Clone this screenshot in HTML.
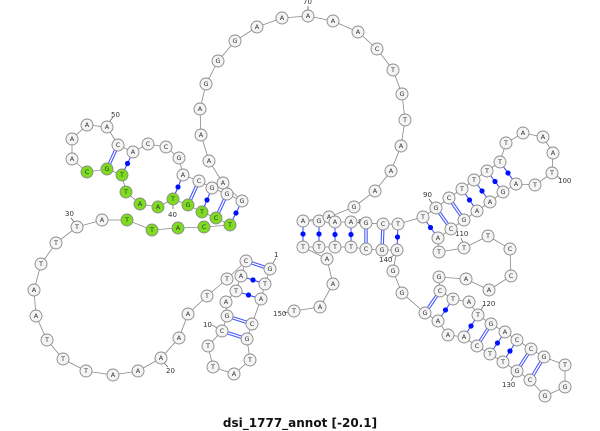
<!DOCTYPE html>
<html><head><meta charset="utf-8">
<style>
html,body{margin:0;padding:0;background:#fff;}
svg{display:block;}
.n circle{fill:#f4f4f4;stroke:#8a8a8a;stroke-width:0.9;}
.n.g circle{fill:#7ddc1f;stroke:#8a8a8a;}
.n text{font-family:"DejaVu Sans","Liberation Sans",sans-serif;font-size:6.5px;fill:#333;text-anchor:middle;dominant-baseline:central;}
.lbl{font-family:"DejaVu Sans","Liberation Sans",sans-serif;font-size:7px;fill:#333;}
.bb{fill:none;stroke:#888;stroke-width:0.8;}
.p1{stroke:#3344ff;stroke-width:1;}
.p2o{stroke:#4455ff;stroke-width:3.4;}
.p2i{stroke:#fff;stroke-width:1.3;}
.dot{fill:#0010ff;}
</style></head>
<body>
<svg width="600" height="431" viewBox="0 0 600 431" xmlns="http://www.w3.org/2000/svg">
<polyline class="bb" points="270,269 265,284 261,299 252,324 247,339 250,360 234,374 213,367 208,346 222,331 227,316 226,302 236,291 241,276 246,261 227,279 207,296 188,314 179,338 161,358 138,371 113,375 86,371 63,359 47,340 36,316 34,290 41,264 56,243 77,227 102,220 127,220 152,230 178,228 204,227 230,225 216,218 202,212 188,205 173,199 158,207 140,204 126,192 122,175 107,169 87,172 72,159 72,139 87,125 107,127 118,145 133,152 148,144 166,147 179,158 183,175 199,181 212,188 227,194 242,201 223,183 209,161 201,135 200,109 206,84 218,61 235,41 257,27 282,18 308,16 333,21 358,32 377,49 393,70 402,94 405,120 401,146 391,171 375,191 354,207 329,217 303,221 319,221 335,222 351,222 366,223 383,224 398,224 423,217 436,208 449,198 462,189 474,180 487,171 500,162 506,143 523,133 543,137 553,153 552,173 535,185 516,184 503,192 490,202 477,211 464,220 451,229 438,238 439,252 464,248 488,236 510,249 511,276 489,290 466,279 439,277 440,291 453,299 469,302 478,315 491,324 505,332 517,340 531,349 544,357 565,365 565,387 545,396 530,380 517,371 503,362 490,354 477,346 464,337 448,335 438,321 425,313 402,293 393,271 397,250 382,250 366,249 351,247 335,247 319,247 303,247 327,259 333,284 320,307 294,311"/>
<!-- double pairs -->
<g>
<line class="p2o" x1="270" y1="269" x2="246" y2="261"/><line class="p2i" x1="270" y1="269" x2="246" y2="261"/>
<line class="p2o" x1="252" y1="324" x2="227" y2="316"/><line class="p2i" x1="252" y1="324" x2="227" y2="316"/>
<line class="p2o" x1="247" y1="339" x2="222" y2="331"/><line class="p2i" x1="247" y1="339" x2="222" y2="331"/>
<line class="p2o" x1="216" y1="218" x2="227" y2="194"/><line class="p2i" x1="216" y1="218" x2="227" y2="194"/>
<line class="p2o" x1="188" y1="205" x2="199" y2="181"/><line class="p2i" x1="188" y1="205" x2="199" y2="181"/>
<line class="p2o" x1="107" y1="169" x2="118" y2="145"/><line class="p2i" x1="107" y1="169" x2="118" y2="145"/>
<line class="p2o" x1="366" y1="223" x2="366" y2="249"/><line class="p2i" x1="366" y1="223" x2="366" y2="249"/>
<line class="p2o" x1="383" y1="224" x2="382" y2="250"/><line class="p2i" x1="383" y1="224" x2="382" y2="250"/>
<line class="p2o" x1="436" y1="208" x2="451" y2="229"/><line class="p2i" x1="436" y1="208" x2="451" y2="229"/>
<line class="p2o" x1="449" y1="198" x2="464" y2="220"/><line class="p2i" x1="449" y1="198" x2="464" y2="220"/>
<line class="p2o" x1="440" y1="291" x2="425" y2="313"/><line class="p2i" x1="440" y1="291" x2="425" y2="313"/>
<line class="p2o" x1="491" y1="324" x2="477" y2="346"/><line class="p2i" x1="491" y1="324" x2="477" y2="346"/>
<line class="p2o" x1="531" y1="349" x2="517" y2="371"/><line class="p2i" x1="531" y1="349" x2="517" y2="371"/>
<line class="p2o" x1="544" y1="357" x2="530" y2="380"/><line class="p2i" x1="544" y1="357" x2="530" y2="380"/>
</g>
<!-- dot pairs -->
<g>
<line class="p1" x1="265" y1="284" x2="241" y2="276"/><circle class="dot" cx="253" cy="280" r="2.6"/>
<line class="p1" x1="261" y1="299" x2="236" y2="291"/><circle class="dot" cx="248.5" cy="295" r="2.6"/>
<line class="p1" x1="230" y1="225" x2="242" y2="201"/><circle class="dot" cx="236" cy="213" r="2.6"/>
<line class="p1" x1="202" y1="212" x2="212" y2="188"/><circle class="dot" cx="207" cy="200" r="2.6"/>
<line class="p1" x1="173" y1="199" x2="183" y2="175"/><circle class="dot" cx="178" cy="187" r="2.6"/>
<line class="p1" x1="122" y1="175" x2="133" y2="152"/><circle class="dot" cx="127.5" cy="163.5" r="2.6"/>
<line class="p1" x1="303" y1="221" x2="303" y2="247"/><circle class="dot" cx="303" cy="234" r="2.6"/>
<line class="p1" x1="319" y1="221" x2="319" y2="247"/><circle class="dot" cx="319" cy="234" r="2.6"/>
<line class="p1" x1="335" y1="222" x2="335" y2="247"/><circle class="dot" cx="335" cy="234.5" r="2.6"/>
<line class="p1" x1="351" y1="222" x2="351" y2="247"/><circle class="dot" cx="351" cy="234.5" r="2.6"/>
<line class="p1" x1="398" y1="224" x2="397" y2="250"/><circle class="dot" cx="397.5" cy="237" r="2.6"/>
<line class="p1" x1="423" y1="217" x2="438" y2="238"/><circle class="dot" cx="430.5" cy="227.5" r="2.6"/>
<line class="p1" x1="462" y1="189" x2="477" y2="211"/><circle class="dot" cx="469.5" cy="200" r="2.6"/>
<line class="p1" x1="474" y1="180" x2="490" y2="202"/><circle class="dot" cx="482" cy="191" r="2.6"/>
<line class="p1" x1="487" y1="171" x2="503" y2="192"/><circle class="dot" cx="495" cy="181.5" r="2.6"/>
<line class="p1" x1="500" y1="162" x2="516" y2="184"/><circle class="dot" cx="508" cy="173" r="2.6"/>
<line class="p1" x1="453" y1="299" x2="438" y2="321"/><circle class="dot" cx="445.5" cy="310" r="2.6"/>
<line class="p1" x1="478" y1="315" x2="464" y2="337"/><circle class="dot" cx="471" cy="326" r="2.6"/>
<line class="p1" x1="505" y1="332" x2="490" y2="354"/><circle class="dot" cx="497.5" cy="343" r="2.6"/>
<line class="p1" x1="517" y1="340" x2="503" y2="362"/><circle class="dot" cx="510" cy="351" r="2.6"/>
</g>
<!-- label ticks -->
<g stroke="#555" stroke-width="0.7">
<line x1="273" y1="263" x2="276" y2="258"/>
<line x1="217" y1="328" x2="212" y2="325"/>
<line x1="164" y1="363" x2="168" y2="367"/>
<line x1="74" y1="222" x2="71" y2="218"/>
<line x1="173" y1="205" x2="173" y2="209"/>
<line x1="110" y1="121" x2="113" y2="117"/>
<line x1="308" y1="10" x2="308" y2="6"/>
<line x1="432" y1="203" x2="429" y2="199"/>
<line x1="557" y1="176" x2="561" y2="179"/>
<line x1="463" y1="243" x2="461" y2="238"/>
<line x1="481" y1="310" x2="484" y2="305"/>
<line x1="514" y1="376" x2="511" y2="381"/>
<line x1="394" y1="255" x2="390" y2="258"/>
<line x1="288" y1="312" x2="284" y2="313"/>
</g>
<g class="lbl">
<text x="274" y="257">1</text>
<text x="203" y="327">10</text>
<text x="166" y="373">20</text>
<text x="65" y="216">30</text>
<text x="168" y="217">40</text>
<text x="111" y="117">50</text>
<text x="223" y="195">60</text>
<text x="303" y="4">70</text>
<text x="358" y="224">86</text>
<text x="423" y="197">90</text>
<text x="558" y="183">100</text>
<text x="455" y="236">110</text>
<text x="482" y="306">120</text>
<text x="502" y="387">130</text>
<text x="379" y="262">140</text>
<text x="273" y="316">150</text>
</g>
<g class="n"><circle cx="270" cy="269" r="6"/><text x="270" y="269">G</text></g>
<g class="n"><circle cx="265" cy="284" r="6"/><text x="265" y="284">T</text></g>
<g class="n"><circle cx="261" cy="299" r="6"/><text x="261" y="299">A</text></g>
<g class="n"><circle cx="252" cy="324" r="6"/><text x="252" y="324">C</text></g>
<g class="n"><circle cx="247" cy="339" r="6"/><text x="247" y="339">G</text></g>
<g class="n"><circle cx="250" cy="360" r="6"/><text x="250" y="360">T</text></g>
<g class="n"><circle cx="234" cy="374" r="6"/><text x="234" y="374">A</text></g>
<g class="n"><circle cx="213" cy="367" r="6"/><text x="213" y="367">T</text></g>
<g class="n"><circle cx="208" cy="346" r="6"/><text x="208" y="346">T</text></g>
<g class="n"><circle cx="222" cy="331" r="6"/><text x="222" y="331">C</text></g>
<g class="n"><circle cx="227" cy="316" r="6"/><text x="227" y="316">G</text></g>
<g class="n"><circle cx="226" cy="302" r="6"/><text x="226" y="302">A</text></g>
<g class="n"><circle cx="236" cy="291" r="6"/><text x="236" y="291">T</text></g>
<g class="n"><circle cx="241" cy="276" r="6"/><text x="241" y="276">A</text></g>
<g class="n"><circle cx="246" cy="261" r="6"/><text x="246" y="261">C</text></g>
<g class="n"><circle cx="227" cy="279" r="6"/><text x="227" y="279">T</text></g>
<g class="n"><circle cx="207" cy="296" r="6"/><text x="207" y="296">T</text></g>
<g class="n"><circle cx="188" cy="314" r="6"/><text x="188" y="314">A</text></g>
<g class="n"><circle cx="179" cy="338" r="6"/><text x="179" y="338">A</text></g>
<g class="n"><circle cx="161" cy="358" r="6"/><text x="161" y="358">A</text></g>
<g class="n"><circle cx="138" cy="371" r="6"/><text x="138" y="371">A</text></g>
<g class="n"><circle cx="113" cy="375" r="6"/><text x="113" y="375">A</text></g>
<g class="n"><circle cx="86" cy="371" r="6"/><text x="86" y="371">T</text></g>
<g class="n"><circle cx="63" cy="359" r="6"/><text x="63" y="359">T</text></g>
<g class="n"><circle cx="47" cy="340" r="6"/><text x="47" y="340">T</text></g>
<g class="n"><circle cx="36" cy="316" r="6"/><text x="36" y="316">A</text></g>
<g class="n"><circle cx="34" cy="290" r="6"/><text x="34" y="290">A</text></g>
<g class="n"><circle cx="41" cy="264" r="6"/><text x="41" y="264">T</text></g>
<g class="n"><circle cx="56" cy="243" r="6"/><text x="56" y="243">T</text></g>
<g class="n"><circle cx="77" cy="227" r="6"/><text x="77" y="227">T</text></g>
<g class="n"><circle cx="102" cy="220" r="6"/><text x="102" y="220">A</text></g>
<g class="n g"><circle cx="127" cy="220" r="6"/><text x="127" y="220">T</text></g>
<g class="n g"><circle cx="152" cy="230" r="6"/><text x="152" y="230">T</text></g>
<g class="n g"><circle cx="178" cy="228" r="6"/><text x="178" y="228">A</text></g>
<g class="n g"><circle cx="204" cy="227" r="6"/><text x="204" y="227">C</text></g>
<g class="n g"><circle cx="230" cy="225" r="6"/><text x="230" y="225">T</text></g>
<g class="n g"><circle cx="216" cy="218" r="6"/><text x="216" y="218">C</text></g>
<g class="n g"><circle cx="202" cy="212" r="6"/><text x="202" y="212">T</text></g>
<g class="n g"><circle cx="188" cy="205" r="6"/><text x="188" y="205">G</text></g>
<g class="n g"><circle cx="173" cy="199" r="6"/><text x="173" y="199">T</text></g>
<g class="n g"><circle cx="158" cy="207" r="6"/><text x="158" y="207">A</text></g>
<g class="n g"><circle cx="140" cy="204" r="6"/><text x="140" y="204">A</text></g>
<g class="n g"><circle cx="126" cy="192" r="6"/><text x="126" y="192">T</text></g>
<g class="n g"><circle cx="122" cy="175" r="6"/><text x="122" y="175">T</text></g>
<g class="n g"><circle cx="107" cy="169" r="6"/><text x="107" y="169">G</text></g>
<g class="n g"><circle cx="87" cy="172" r="6"/><text x="87" y="172">C</text></g>
<g class="n"><circle cx="72" cy="159" r="6"/><text x="72" y="159">A</text></g>
<g class="n"><circle cx="72" cy="139" r="6"/><text x="72" y="139">A</text></g>
<g class="n"><circle cx="87" cy="125" r="6"/><text x="87" y="125">A</text></g>
<g class="n"><circle cx="107" cy="127" r="6"/><text x="107" y="127">A</text></g>
<g class="n"><circle cx="118" cy="145" r="6"/><text x="118" y="145">C</text></g>
<g class="n"><circle cx="133" cy="152" r="6"/><text x="133" y="152">A</text></g>
<g class="n"><circle cx="148" cy="144" r="6"/><text x="148" y="144">C</text></g>
<g class="n"><circle cx="166" cy="147" r="6"/><text x="166" y="147">C</text></g>
<g class="n"><circle cx="179" cy="158" r="6"/><text x="179" y="158">G</text></g>
<g class="n"><circle cx="183" cy="175" r="6"/><text x="183" y="175">A</text></g>
<g class="n"><circle cx="199" cy="181" r="6"/><text x="199" y="181">C</text></g>
<g class="n"><circle cx="212" cy="188" r="6"/><text x="212" y="188">G</text></g>
<g class="n"><circle cx="223" cy="183" r="6"/><text x="223" y="183">A</text></g>
<g class="n"><circle cx="227" cy="194" r="6"/><text x="227" y="194">G</text></g>
<g class="n"><circle cx="242" cy="201" r="6"/><text x="242" y="201">G</text></g>
<g class="n"><circle cx="209" cy="161" r="6"/><text x="209" y="161">A</text></g>
<g class="n"><circle cx="201" cy="135" r="6"/><text x="201" y="135">A</text></g>
<g class="n"><circle cx="200" cy="109" r="6"/><text x="200" y="109">A</text></g>
<g class="n"><circle cx="206" cy="84" r="6"/><text x="206" y="84">G</text></g>
<g class="n"><circle cx="218" cy="61" r="6"/><text x="218" y="61">G</text></g>
<g class="n"><circle cx="235" cy="41" r="6"/><text x="235" y="41">G</text></g>
<g class="n"><circle cx="257" cy="27" r="6"/><text x="257" y="27">A</text></g>
<g class="n"><circle cx="282" cy="18" r="6"/><text x="282" y="18">A</text></g>
<g class="n"><circle cx="308" cy="16" r="6"/><text x="308" y="16">A</text></g>
<g class="n"><circle cx="333" cy="21" r="6"/><text x="333" y="21">A</text></g>
<g class="n"><circle cx="358" cy="32" r="6"/><text x="358" y="32">A</text></g>
<g class="n"><circle cx="377" cy="49" r="6"/><text x="377" y="49">C</text></g>
<g class="n"><circle cx="393" cy="70" r="6"/><text x="393" y="70">T</text></g>
<g class="n"><circle cx="402" cy="94" r="6"/><text x="402" y="94">G</text></g>
<g class="n"><circle cx="405" cy="120" r="6"/><text x="405" y="120">T</text></g>
<g class="n"><circle cx="401" cy="146" r="6"/><text x="401" y="146">A</text></g>
<g class="n"><circle cx="391" cy="171" r="6"/><text x="391" y="171">A</text></g>
<g class="n"><circle cx="375" cy="191" r="6"/><text x="375" y="191">A</text></g>
<g class="n"><circle cx="354" cy="207" r="6"/><text x="354" y="207">G</text></g>
<g class="n"><circle cx="303" cy="221" r="6"/><text x="303" y="221">A</text></g>
<g class="n"><circle cx="319" cy="221" r="6"/><text x="319" y="221">G</text></g>
<g class="n"><circle cx="329" cy="217" r="6"/><text x="329" y="217">A</text></g>
<g class="n"><circle cx="335" cy="222" r="6"/><text x="335" y="222">A</text></g>
<g class="n"><circle cx="351" cy="222" r="6"/><text x="351" y="222">A</text></g>
<g class="n"><circle cx="366" cy="223" r="6"/><text x="366" y="223">G</text></g>
<g class="n"><circle cx="383" cy="224" r="6"/><text x="383" y="224">C</text></g>
<g class="n"><circle cx="398" cy="224" r="6"/><text x="398" y="224">T</text></g>
<g class="n"><circle cx="423" cy="217" r="6"/><text x="423" y="217">T</text></g>
<g class="n"><circle cx="436" cy="208" r="6"/><text x="436" y="208">G</text></g>
<g class="n"><circle cx="449" cy="198" r="6"/><text x="449" y="198">C</text></g>
<g class="n"><circle cx="462" cy="189" r="6"/><text x="462" y="189">T</text></g>
<g class="n"><circle cx="474" cy="180" r="6"/><text x="474" y="180">T</text></g>
<g class="n"><circle cx="487" cy="171" r="6"/><text x="487" y="171">T</text></g>
<g class="n"><circle cx="500" cy="162" r="6"/><text x="500" y="162">T</text></g>
<g class="n"><circle cx="506" cy="143" r="6"/><text x="506" y="143">T</text></g>
<g class="n"><circle cx="523" cy="133" r="6"/><text x="523" y="133">A</text></g>
<g class="n"><circle cx="543" cy="137" r="6"/><text x="543" y="137">A</text></g>
<g class="n"><circle cx="553" cy="153" r="6"/><text x="553" y="153">A</text></g>
<g class="n"><circle cx="552" cy="173" r="6"/><text x="552" y="173">T</text></g>
<g class="n"><circle cx="535" cy="185" r="6"/><text x="535" y="185">T</text></g>
<g class="n"><circle cx="516" cy="184" r="6"/><text x="516" y="184">A</text></g>
<g class="n"><circle cx="503" cy="192" r="6"/><text x="503" y="192">G</text></g>
<g class="n"><circle cx="490" cy="202" r="6"/><text x="490" y="202">A</text></g>
<g class="n"><circle cx="477" cy="211" r="6"/><text x="477" y="211">A</text></g>
<g class="n"><circle cx="464" cy="220" r="6"/><text x="464" y="220">G</text></g>
<g class="n"><circle cx="451" cy="229" r="6"/><text x="451" y="229">C</text></g>
<g class="n"><circle cx="438" cy="238" r="6"/><text x="438" y="238">A</text></g>
<g class="n"><circle cx="439" cy="252" r="6"/><text x="439" y="252">T</text></g>
<g class="n"><circle cx="464" cy="248" r="6"/><text x="464" y="248">T</text></g>
<g class="n"><circle cx="488" cy="236" r="6"/><text x="488" y="236">T</text></g>
<g class="n"><circle cx="510" cy="249" r="6"/><text x="510" y="249">C</text></g>
<g class="n"><circle cx="511" cy="276" r="6"/><text x="511" y="276">C</text></g>
<g class="n"><circle cx="489" cy="290" r="6"/><text x="489" y="290">A</text></g>
<g class="n"><circle cx="466" cy="279" r="6"/><text x="466" y="279">A</text></g>
<g class="n"><circle cx="439" cy="277" r="6"/><text x="439" y="277">G</text></g>
<g class="n"><circle cx="440" cy="291" r="6"/><text x="440" y="291">C</text></g>
<g class="n"><circle cx="453" cy="299" r="6"/><text x="453" y="299">T</text></g>
<g class="n"><circle cx="469" cy="302" r="6"/><text x="469" y="302">A</text></g>
<g class="n"><circle cx="478" cy="315" r="6"/><text x="478" y="315">T</text></g>
<g class="n"><circle cx="491" cy="324" r="6"/><text x="491" y="324">G</text></g>
<g class="n"><circle cx="505" cy="332" r="6"/><text x="505" y="332">A</text></g>
<g class="n"><circle cx="517" cy="340" r="6"/><text x="517" y="340">C</text></g>
<g class="n"><circle cx="531" cy="349" r="6"/><text x="531" y="349">C</text></g>
<g class="n"><circle cx="544" cy="357" r="6"/><text x="544" y="357">G</text></g>
<g class="n"><circle cx="565" cy="365" r="6"/><text x="565" y="365">T</text></g>
<g class="n"><circle cx="565" cy="387" r="6"/><text x="565" y="387">G</text></g>
<g class="n"><circle cx="545" cy="396" r="6"/><text x="545" y="396">G</text></g>
<g class="n"><circle cx="530" cy="380" r="6"/><text x="530" y="380">C</text></g>
<g class="n"><circle cx="517" cy="371" r="6"/><text x="517" y="371">G</text></g>
<g class="n"><circle cx="503" cy="362" r="6"/><text x="503" y="362">T</text></g>
<g class="n"><circle cx="490" cy="354" r="6"/><text x="490" y="354">T</text></g>
<g class="n"><circle cx="477" cy="346" r="6"/><text x="477" y="346">C</text></g>
<g class="n"><circle cx="464" cy="337" r="6"/><text x="464" y="337">A</text></g>
<g class="n"><circle cx="448" cy="335" r="6"/><text x="448" y="335">A</text></g>
<g class="n"><circle cx="438" cy="321" r="6"/><text x="438" y="321">A</text></g>
<g class="n"><circle cx="425" cy="313" r="6"/><text x="425" y="313">G</text></g>
<g class="n"><circle cx="402" cy="293" r="6"/><text x="402" y="293">G</text></g>
<g class="n"><circle cx="393" cy="271" r="6"/><text x="393" y="271">G</text></g>
<g class="n"><circle cx="397" cy="250" r="6"/><text x="397" y="250">G</text></g>
<g class="n"><circle cx="382" cy="250" r="6"/><text x="382" y="250">G</text></g>
<g class="n"><circle cx="366" cy="249" r="6"/><text x="366" y="249">C</text></g>
<g class="n"><circle cx="351" cy="247" r="6"/><text x="351" y="247">T</text></g>
<g class="n"><circle cx="335" cy="247" r="6"/><text x="335" y="247">T</text></g>
<g class="n"><circle cx="319" cy="247" r="6"/><text x="319" y="247">T</text></g>
<g class="n"><circle cx="303" cy="247" r="6"/><text x="303" y="247">T</text></g>
<g class="n"><circle cx="327" cy="259" r="6"/><text x="327" y="259">A</text></g>
<g class="n"><circle cx="333" cy="284" r="6"/><text x="333" y="284">A</text></g>
<g class="n"><circle cx="320" cy="307" r="6"/><text x="320" y="307">A</text></g>
<g class="n"><circle cx="294" cy="311" r="6"/><text x="294" y="311">T</text></g>
<text x="300" y="427" text-anchor="middle" font-family="'DejaVu Sans','Liberation Sans',sans-serif" font-weight="bold" font-size="12" fill="#111">dsi_1777_annot [-20.1]</text>
</svg>
</body></html>
